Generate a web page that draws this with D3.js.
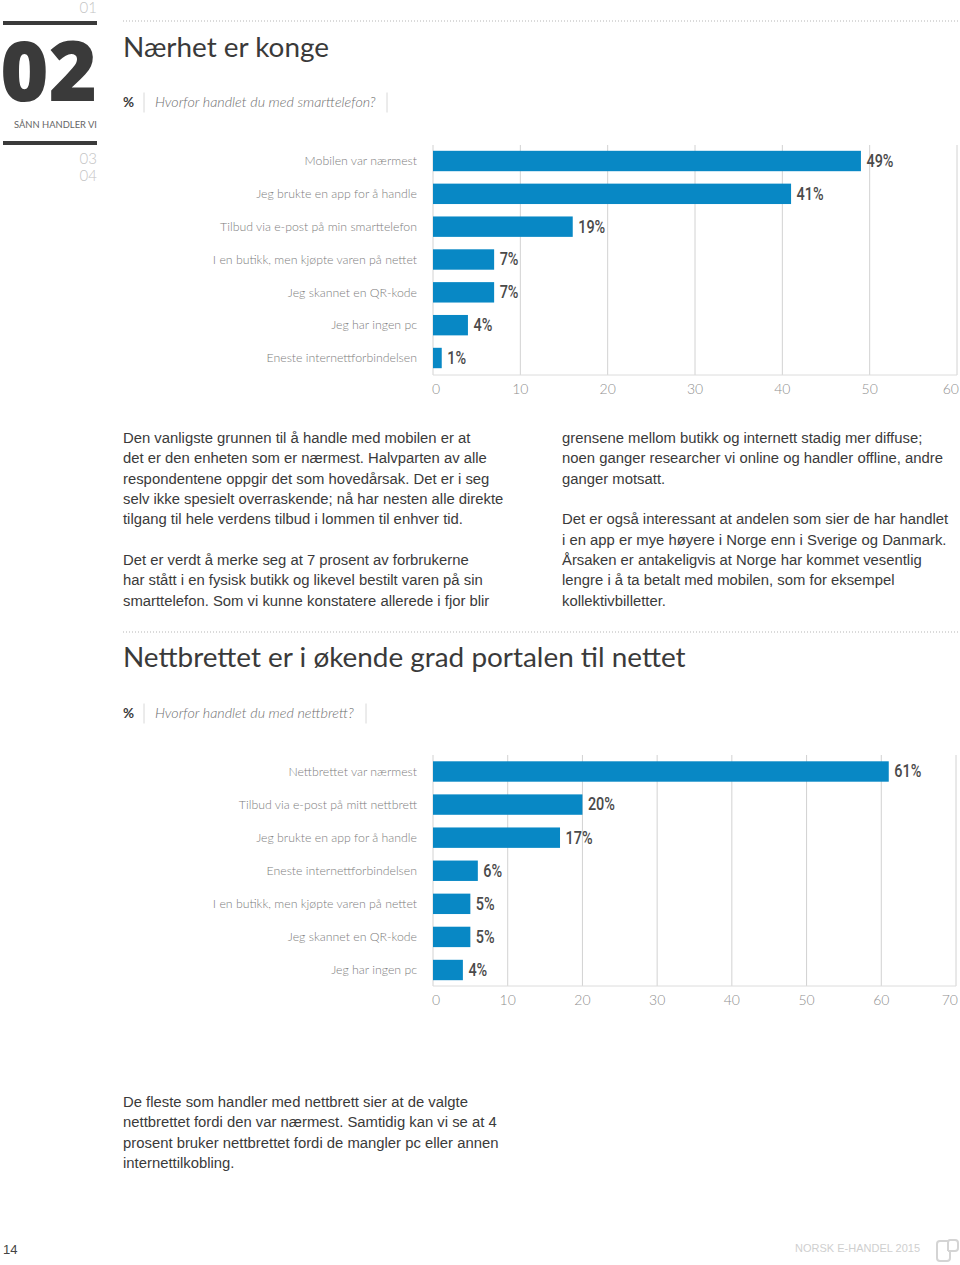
<!DOCTYPE html>
<html><head><meta charset="utf-8">
<script src="https://cdn.jsdelivr.net/npm/d3@7"></script>
<style>
html,body{margin:0;padding:0;background:#fff}
svg{display:block}
text{font-family:"Lato",sans-serif}
.body{font-family:"Liberation Sans",sans-serif;font-size:14.85px;fill:#3a3a3a}
.cat{font-family:"Lato",sans-serif;font-weight:300;font-size:12.3px;fill:#7d7d7d}
.tick{font-family:"Lato",sans-serif;font-weight:300;font-size:14px;fill:#8f8f8f}
.h{font-family:"Lato",sans-serif;font-weight:400;fill:#3a3a3a;font-size:27.9px}
.q{font-family:"Lato",sans-serif;font-weight:300;font-style:italic;font-size:14.3px;fill:#6f6f6f}
.val{font-family:"Roboto",sans-serif;font-weight:500;font-size:18.5px;fill:#4a4a4a}
</style></head><body><div id="c"></div>
<script>
const phoneCategories=["Mobilen var nærmest","Jeg brukte en app for å handle","Tilbud via e-post på min smarttelefon","I en butikk, men kjøpte varen på nettet","Jeg skannet en QR-kode","Jeg har ingen pc","Eneste internettforbindelsen"];
const phoneBars=[49,41,16,7,7,4,1];
const phoneLabels=["49%","41%","19%","7%","7%","4%","1%"];
const phoneTicks=[0,10,20,30,40,50,60];
const tabletCategories=["Nettbrettet var nærmest","Tilbud via e-post på mitt nettbrett","Jeg brukte en app for å handle","Eneste internettforbindelsen","I en butikk, men kjøpte varen på nettet","Jeg skannet en QR-kode","Jeg har ingen pc"];
const tabletBars=[61,20,17,6,5,5,4];
const tabletLabels=["61%","20%","17%","6%","5%","5%","4%"];
const tabletTicks=[0,10,20,30,40,50,60,70];
const para1=[["Den vanligste grunnen til å handle med mobilen er at",439],["det er den enheten som er nærmest. Halvparten av alle",459.5],["respondentene oppgir det som hovedårsak. Det er i seg",480],["selv ikke spesielt overraskende; nå har nesten alle direkte",500],["tilgang til hele verdens tilbud i lommen til enhver tid.",520.5],["Det er verdt å merke seg at 7 prosent av forbrukerne",561.5],["har stått i en fysisk butikk og likevel bestilt varen på sin",581.5],["smarttelefon. Som vi kunne konstatere allerede i fjor blir",602]];
const para2=[["grensene mellom butikk og internett stadig mer diffuse;",439],["noen ganger researcher vi online og handler offline, andre",459.5],["ganger motsatt.",480],["Det er også interessant at andelen som sier de har handlet",520.5],["i en app er mye høyere i Norge enn i Sverige og Danmark.",541],["Årsaken er antakeligvis at Norge har kommet vesentlig",561.5],["lengre i å ta betalt med mobilen, som for eksempel",581.5],["kollektivbilletter.",602]];
const para3=[["De fleste som handler med nettbrett sier at de valgte",1103],["nettbrettet fordi den var nærmest. Samtidig kan vi se at 4",1123.5],["prosent bruker nettbrettet fordi de mangler pc eller annen",1144],["internettilkobling.",1164]];

const svg=d3.select("#c").append("svg").attr("width",960).attr("height",1265);
const T=(x,y,s,cls,anchor)=>svg.append("text").attr("x",x).attr("y",y).attr("class",cls||null).attr("text-anchor",anchor||"start").attr("dominant-baseline","middle").text(s);

function barChart(cats,vals,labels,ticks,o){
  const x=d3.scaleLinear().domain([ticks[0],ticks[ticks.length-1]]).range([o.x0,o.x1]);
  const y=d3.scalePoint().domain(cats).range([o.yFirst,o.yLast]);
  const g=svg.append("g");
  g.selectAll(".grid").data(ticks).join("line").attr("x1",d=>x(d)).attr("x2",d=>x(d))
    .attr("y1",o.gridTop).attr("y2",o.axisY).attr("stroke","#d2d2d2").attr("stroke-width",1);
  g.append("line").attr("x1",o.x0).attr("x2",o.x1).attr("y1",o.axisY).attr("y2",o.axisY).attr("stroke","#dcdcdc");
  g.selectAll(".bar").data(vals).join("rect").attr("x",o.x0).attr("y",(d,i)=>y(cats[i])-10.2)
    .attr("width",d=>x(d)-o.x0).attr("height",20.4).attr("fill","#0888c5");
  g.selectAll(".v").data(vals).join("text").attr("class","val").attr("y",(d,i)=>y(cats[i])+1)
    .attr("dominant-baseline","middle").attr("x",d=>x(d)+5.5).text((d,i)=>labels[i])
    .attr("lengthAdjust","spacingAndGlyphs").attr("textLength",function(){return this.getComputedTextLength()*0.78;});
  g.selectAll(".c").data(cats).join("text").attr("class","cat").attr("text-anchor","end")
    .attr("x",o.x0-16).attr("y",d=>y(d)+1.2).attr("dominant-baseline","middle").text(d=>d);
  g.selectAll(".t").data(ticks).join("text").attr("class","tick").attr("y",o.axisY+16)
    .attr("dominant-baseline","middle").attr("text-anchor",(d,i)=>i==ticks.length-1?"end":i==0?"start":"middle")
    .attr("x",(d,i)=>i==0?o.x0-1:i==ticks.length-1?o.x1+2:x(d)).text(d=>d);
}
barChart(phoneCategories,phoneBars,phoneLabels,phoneTicks,{x0:433,x1:957,yFirst:161,yLast:358,gridTop:145,axisY:375});
barChart(tabletCategories,tabletBars,tabletLabels,tabletTicks,{x0:433,x1:956,yFirst:771.5,yLast:970,gridTop:755,axisY:986});

// left nav
const navBar=[21,141];
svg.selectAll(".nb").data(navBar).join("rect").attr("x",3).attr("width",94).attr("y",d=>d).attr("height",4).attr("fill","#3a3a3a");
[["01",9],["03",160],["04",177]].forEach(d=>T(97,d[1],d[0],"tick","end").style("font-size","15px").style("fill","#c4c4c4"));
T(97,79,"02",null,"end").style("font-family","Open Sans").style("font-weight",800).style("font-size","82.5px").style("fill","#3a3a3a");
T(97,125,"SÅNN HANDLER VI",null,"end").style("font-size","10.4px").style("fill","#666").attr("lengthAdjust","spacingAndGlyphs").attr("textLength",83);

// dotted rules
[21,632].forEach(y=>svg.append("line").attr("x1",123).attr("x2",960).attr("y1",y).attr("y2",y)
  .attr("stroke","#b5b5b5").attr("stroke-dasharray","1 2").attr("stroke-width",1));

T(123,49.5,"Nærhet er konge","h");
T(123,660,"Nettbrettet er i økende grad portalen til nettet","h");

// question rows
[[103.5,"Hvorfor handlet du med smarttelefon?",387],[714.5,"Hvorfor handlet du med nettbrett?",366]].forEach(d=>{
  T(123,d[0],"%",null).style("font-size","13.5px").style("font-weight",700).style("fill","#3a3a3a");
  T(155,d[0],d[1],"q");
  [144,d[2]].forEach(x=>svg.append("line").attr("x1",x).attr("x2",x).attr("y1",d[0]-11).attr("y2",d[0]+9).attr("stroke","#d8d8d8"));
});

para1.forEach(d=>T(123,d[1],d[0],"body"));
para2.forEach(d=>T(562,d[1],d[0],"body"));
para3.forEach(d=>T(123,d[1],d[0],"body"));

// footer
T(3,1251,"14",null).style("font-family","Liberation Sans").style("font-size","13px").style("fill","#444");
T(920,1249,"NORSK E-HANDEL 2015",null,"end").style("font-family","Liberation Sans").style("font-size","11px").style("fill","#cfcfcf");
svg.append("path").attr("d","M948 1241 H940 Q937 1241 937 1244 V1258 Q937 1261 940 1261 H947 Q950 1261 950 1258 V1251 M948 1251 H955 Q958 1251 958 1248 V1243 Q958 1240 955 1240 H950 Q948 1240 948 1243 V1251")
  .attr("fill","none").attr("stroke","#d4d4d4").attr("stroke-width",2);
</script></body></html>
